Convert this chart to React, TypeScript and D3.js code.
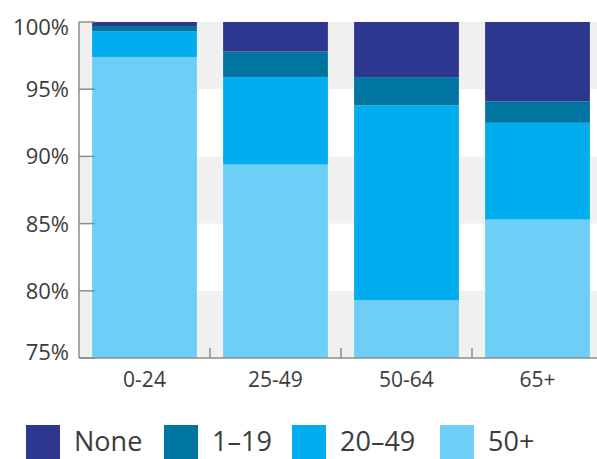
import React from "react";
import * as d3 from "d3";

const categories = ["0-24", "25-49", "50-64", "65+"];
const seriesKeys = ["50+", "20–49", "1–19", "None"]; // bottom to top
const legendKeys = ["None", "1–19", "20–49", "50+"];
const values50plus = [97.4, 89.4, 79.3, 85.3];
const values20to49 = [1.9, 6.5, 14.5, 7.2];
const values1to19 = [0.4, 1.9, 2.1, 1.6];
const valuesNone = [0.3, 2.2, 4.1, 5.9];
const yTicks = [75, 80, 85, 90, 95, 100];

const colors: Record<string, string> = {
  None: "#2e3790",
  "1–19": "#00759f",
  "20–49": "#00adee",
  "50+": "#6dcff6",
};

const W = 597;
const H = 459;
const left = 79;
const right = 603;
const top = 22;
const bottom = 358;
const FONT = "'Open Sans', 'DejaVu Sans', sans-serif";
const TEXT = "#3c3c3c";

export default function App() {
  const rows = categories.map((c, i) => ({
    cat: c,
    "50+": values50plus[i],
    "20–49": values20to49[i],
    "1–19": values1to19[i],
    None: valuesNone[i],
  }));
  const stacked = d3.stack<any>().keys(seriesKeys)(rows);

  const x = d3.scaleBand().domain(categories).range([left, right]).paddingInner(0.2).paddingOuter(0.1);
  const y = d3.scaleLinear().domain([75, 100]).range([bottom, top]);
  const step = x.step();
  const gap = (step - x.bandwidth()) / 2;

  const bands = [];
  for (let i = 0; i < yTicks.length - 1; i++) {
    const lo = yTicks[i];
    const hi = yTicks[i + 1];
    const idx = yTicks.length - 2 - i; // from top
    bands.push(
      <rect
        key={lo}
        x={left}
        y={y(hi)}
        width={right - left}
        height={y(lo) - y(hi)}
        fill={idx % 2 === 0 ? "#f0f0f0" : "#ffffff"}
      />
    );
  }

  const legendX = [26, 164, 292, 440];

  return (
    <svg width={W} height={H} style={{ position: "absolute", left: 0, top: 0 }} fontFamily={FONT}>
      <defs>
        <clipPath id="plot">
          <rect x={left} y={top} width={right - left} height={bottom - top} />
        </clipPath>
      </defs>
      {bands}
      <g clipPath="url(#plot)">
        {stacked.map((s) => (
          <g key={s.key} fill={colors[s.key]}>
            {s.map((d: any, i: number) => (
              <rect
                key={i}
                x={x(d.data.cat)}
                y={y(d[1])}
                width={x.bandwidth()}
                height={y(Math.max(d[0], 70)) - y(d[1])}
              />
            ))}
          </g>
        ))}
      </g>
      {/* y axis */}
      <line x1={left} x2={left} y1={top} y2={bottom} stroke="#8c8c8c" strokeWidth={1.5} />
      {yTicks.map((t) => (
        <g key={t}>
          <line x1={left} x2={left + 16} y1={y(t)} y2={y(t)} stroke="#8c8c8c" strokeWidth={1.5} />
          <text
            x={69}
            y={t === 100 ? 35 : t === 75 ? 360 : y(t) + 8}
            textAnchor="end"
            fontSize={22}
            fill={TEXT}
          >
            {t}%
          </text>
        </g>
      ))}
      {/* x axis */}
      <line x1={left} x2={W} y1={bottom} y2={bottom} stroke="#8c8c8c" strokeWidth={1.5} />
      {categories.slice(1).map((c) => (
        <line
          key={c}
          x1={(x(c) as number) - gap}
          x2={(x(c) as number) - gap}
          y1={bottom - 10}
          y2={bottom}
          stroke="#8c8c8c"
          strokeWidth={1.5}
        />
      ))}
      {categories.map((c) => (
        <text
          key={c}
          x={(x(c) as number) + x.bandwidth() / 2}
          y={387}
          textAnchor="middle"
          fontSize={21}
          fill={TEXT}
        >
          {c}
        </text>
      ))}
      {/* legend */}
      {legendKeys.map((k, i) => (
        <g key={k} transform={`translate(${legendX[i]},0)`}>
          <rect x={0} y={425} width={34} height={40} fill={colors[k]} />
          <text x={48} y={451} fontSize={27} fill={TEXT}>
            {k}
          </text>
        </g>
      ))}
    </svg>
  );
}
